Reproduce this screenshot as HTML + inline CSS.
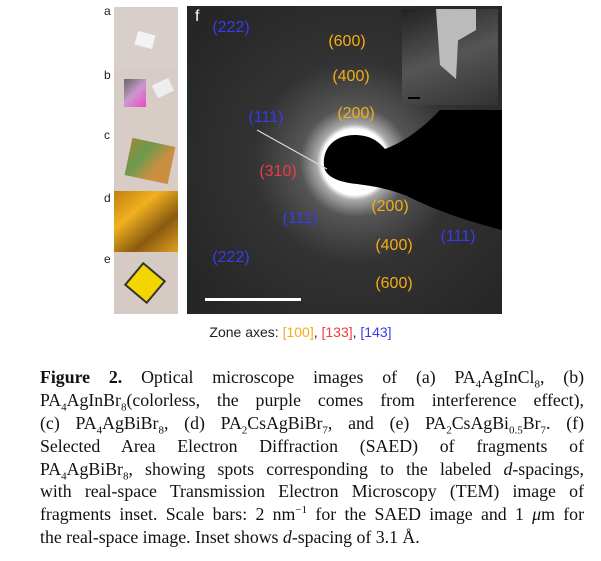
<!DOCTYPE html>
<html><head><style>
body{margin:0;width:601px;height:561px;background:#fff;position:relative;overflow:hidden;font-family:"Liberation Sans",sans-serif}
.abs{position:absolute}
.lab{position:absolute;font-size:16px;transform:translate(-50%,-50%);white-space:nowrap}
.y{color:#f5ad12}.b{color:#3a3aee}.r{color:#ee3b45}
.pl{position:absolute;left:104px;font-size:12px;color:#222}
.cap{position:absolute;left:40px;width:544px;top:366px;font-family:"Liberation Serif",serif;font-size:17.8px;color:#111}
.ln{height:22.9px;line-height:22.9px;text-align:justify;text-align-last:justify;white-space:nowrap;overflow:visible}
.ln.last{text-align-last:left}
sub,sup{font-size:11px;line-height:0}
</style></head><body>
<div class="pl" style="top:4px">a</div>
<div class="pl" style="top:68px">b</div>
<div class="pl" style="top:128px">c</div>
<div class="pl" style="top:191px">d</div>
<div class="pl" style="top:252px">e</div>
<div class="abs" style="left:114px;top:7px;width:64px;height:62px;background:#d9cfca"><div class="abs" style="left:22px;top:26px;width:18px;height:14px;background:#f3f3f6;transform:rotate(15deg)"></div></div>
<div class="abs" style="left:114px;top:69px;width:64px;height:61px;background:#d8ccc6"><div class="abs" style="left:10px;top:10px;width:22px;height:28px;background:linear-gradient(135deg,#666,#c9c,#e4c)"></div><div class="abs" style="left:40px;top:12px;width:18px;height:14px;background:#eee;transform:rotate(-25deg)"></div></div>
<div class="abs" style="left:114px;top:130px;width:64px;height:61px;background:#d7cdc6"><div class="abs" style="left:14px;top:12px;width:44px;height:38px;background:linear-gradient(120deg,#9a8a30,#6a9a50,#c89040,#d08a40);transform:rotate(12deg)"></div></div>
<div class="abs" style="left:114px;top:191px;width:64px;height:61px;background:linear-gradient(140deg,#c08010,#f0b020,#8a5a10,#e0a020)"></div>
<div class="abs" style="left:114px;top:252px;width:64px;height:62px;background:#d5cbc4"><div class="abs" style="left:16px;top:16px;width:26px;height:26px;background:#f3d500;border:2px solid #333;transform:rotate(40deg)"></div></div>

<div class="abs" style="left:187px;top:6px;width:315px;height:308px;background:radial-gradient(circle at 168px 156px,#fff 0,#fff 33px,#aaa 38px,#555 55px,#333 100px,#262626 200px);overflow:hidden">
<svg width="315" height="308" class="abs" style="left:0;top:0"><path d="M137,160 C135,140 150,128 170,129 C185,130 192,136 198,143 C220,135 240,118 253,104 L315,104 L315,224 C280,215 250,205 220,190 C200,182 185,180 170,178 C150,176 138,170 137,160Z" fill="#000"/><line x1="70" y1="124" x2="140" y2="163" stroke="#ddd" stroke-width="1.2"/></svg>
<div class="abs" style="left:8px;top:2px;color:#fff;font-size:16px">f</div>
<div class="abs" style="left:215px;top:3px;width:96px;height:96px;background:linear-gradient(160deg,#222,#555 50%,#333);overflow:hidden"><div class="abs" style="left:34px;top:0;width:40px;height:70px;background:#bbb;clip-path:polygon(0 0,100% 0,100% 30%,55% 45%,50% 100%,10% 80%)"></div><div class="abs" style="left:6px;top:88px;width:12px;height:2px;background:#000"></div></div>
<div class="abs" style="left:18px;top:292px;width:96px;height:3px;background:#fff"></div>
</div>
<div class="lab b" style="left:231px;top:28px">(222)</div>
<div class="lab y" style="left:347px;top:42px">(600)</div>
<div class="lab y" style="left:351px;top:77px">(400)</div>
<div class="lab y" style="left:356px;top:114px">(200)</div>
<div class="lab b" style="left:266px;top:118px">(111)</div>
<div class="lab r" style="left:278px;top:172px">(310)</div>
<div class="lab b" style="left:300px;top:219px">(111)</div>
<div class="lab y" style="left:390px;top:207px">(200)</div>
<div class="lab y" style="left:394px;top:246px">(400)</div>
<div class="lab b" style="left:458px;top:237px">(111)</div>
<div class="lab b" style="left:231px;top:258px">(222)</div>
<div class="lab y" style="left:394px;top:284px">(600)</div>

<div class="abs" style="left:0;width:601px;top:324px;text-align:center;font-size:14px;color:#222">Zone axes: <span class="y">[100]</span>, <span class="r">[133]</span>, <span class="b">[143]</span></div>

<div class="cap">
<div class="ln"><b>Figure 2.</b> Optical microscope images of (a) PA<sub>4</sub>AgInCl<sub>8</sub>, (b)</div>
<div class="ln">PA<sub>4</sub>AgInBr<sub>8</sub>(colorless, the purple comes from interference effect),</div>
<div class="ln">(c) PA<sub>4</sub>AgBiBr<sub>8</sub>, (d) PA<sub>2</sub>CsAgBiBr<sub>7</sub>, and (e) PA<sub>2</sub>CsAgBi<sub>0.5</sub>Br<sub>7</sub>. (f)</div>
<div class="ln">Selected Area Electron Diffraction (SAED) of fragments of</div>
<div class="ln">PA<sub>4</sub>AgBiBr<sub>8</sub>, showing spots corresponding to the labeled <i>d</i>-spacings,</div>
<div class="ln">with real-space Transmission Electron Microscopy (TEM) image of</div>
<div class="ln">fragments inset. Scale bars: 2 nm<sup>−1</sup> for the SAED image and 1 <i>μ</i>m for</div>
<div class="ln last">the real-space image. Inset shows <i>d</i>-spacing of 3.1 Å.</div>
</div>
</body></html>
